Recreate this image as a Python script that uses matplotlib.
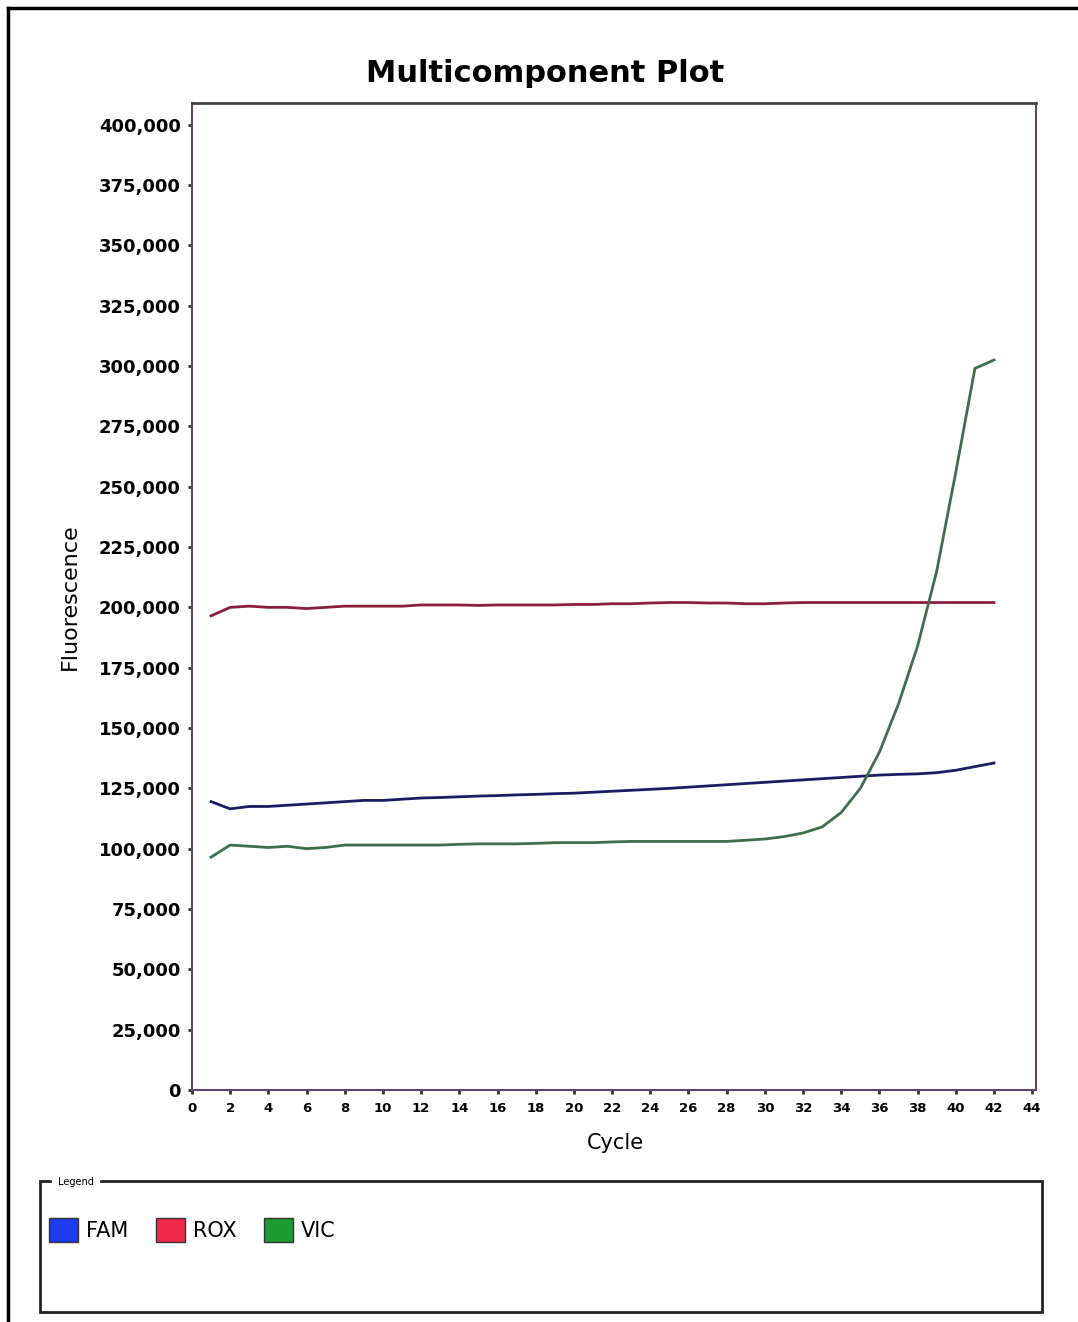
import matplotlib
matplotlib.use("Agg")
import matplotlib.pyplot as plt
from matplotlib.patches import Rectangle, Patch
from matplotlib.ticker import FuncFormatter

cycles = list(range(1, 43))
fam = [119500, 116500, 117500, 117500, 118000, 118500, 119000, 119500, 120000, 120000,
       120500, 121000, 121200, 121500, 121800, 122000, 122300, 122500, 122800, 123000,
       123400, 123800, 124200, 124600, 125000, 125500, 126000, 126500, 127000, 127500,
       128000, 128500, 129000, 129500, 130000, 130500, 130800, 131000, 131500, 132500,
       134000, 135500]
rox = [196500, 200000, 200500, 200000, 200000, 199500, 200000, 200500, 200500, 200500,
       200500, 201000, 201000, 201000, 200800, 201000, 201000, 201000, 201000, 201200,
       201200, 201500, 201500, 201800, 202000, 202000, 201800, 201800, 201500, 201500,
       201800, 202000, 202000, 202000, 202000, 202000, 202000, 202000, 202000, 202000,
       202000, 202000]
vic = [96500, 101500, 101000, 100500, 101000, 100000, 100500, 101500, 101500, 101500,
       101500, 101500, 101500, 101800, 102000, 102000, 102000, 102200, 102500, 102500,
       102500, 102800, 103000, 103000, 103000, 103000, 103000, 103000, 103500, 104000,
       105000, 106500, 109000, 115000, 125000, 140000, 160000, 184000, 215000, 256000,
       299000, 302500]
series_names = ["FAM", "ROX", "VIC"]
line_colors = ["#1c1c64", "#8a1e3c", "#3f6e4e"]
legend_colors = ["#1f3cf0", "#f0284a", "#1e9a32"]
x_ticks = list(range(0, 45, 2))
y_ticks = list(range(0, 400001, 25000))

fig = plt.figure(figsize=(10.78, 13.22), dpi=100)
fig.patch.set_facecolor("white")

# outer border of the scanned page (top and left edges)
fig.add_artist(plt.Line2D([8/1078, 8/1078], [0, 1 - 8/1322], transform=fig.transFigure,
                          color="black", linewidth=2.5))
fig.add_artist(plt.Line2D([8/1078, 1.0], [1 - 8/1322, 1 - 8/1322], transform=fig.transFigure,
                          color="black", linewidth=2.5))

ax = fig.add_axes([192/1078, 1 - 1090/1322, (1036 - 192)/1078, (1090 - 103)/1322])
for name, vals, c in zip(series_names, [fam, rox, vic], line_colors):
    ax.plot(cycles, vals, color=c, linewidth=2.0, label=name)

ax.set_xlim(0, 44.2)
ax.set_ylim(0, 409000)
ax.set_xticks(x_ticks)
ax.set_yticks(y_ticks)
ax.yaxis.set_major_formatter(FuncFormatter(lambda v, p: f"{int(v):,}"))
ax.tick_params(axis="both", direction="out", length=3, width=2, color="#333333")
ax.tick_params(axis="y", labelsize=13, pad=5)
ax.tick_params(axis="x", labelsize=9.5, pad=6)
for lab in ax.get_xticklabels() + ax.get_yticklabels():
    lab.set_fontweight("bold")
for s in ax.spines.values():
    s.set_color("#5a4670")
    s.set_linewidth(1.5)
ax.spines["top"].set_color("#444444")
ax.spines["top"].set_linewidth(2.0)

fig.text(545/1078, 1 - 73/1322, "Multicomponent Plot", ha="center", va="center",
         fontsize=22, fontweight="bold")
fig.text(70/1078, 1 - 597/1322, "Fluorescence", rotation=90, ha="center", va="center",
         fontsize=16)
fig.text(615/1078, 1 - 1143/1322, "Cycle", ha="center", va="center", fontsize=15)

# legend box
fig.add_artist(Rectangle((40/1078, 1 - 1312/1322), (1042 - 40)/1078, (1312 - 1181)/1322,
                         transform=fig.transFigure, fill=False, edgecolor="#222222",
                         linewidth=2.0))
fig.text(58/1078, 1 - 1182/1322, "Legend", fontsize=7, ha="left", va="center",
         backgroundcolor="white")
handles = [Patch(facecolor=c, edgecolor="#333333", label=n)
           for n, c in zip(series_names, legend_colors)]
fig.legend(handles=handles, loc="upper left", bbox_to_anchor=(30/1078, 1 - 1199/1322),
           ncol=3, frameon=False, fontsize=15, handlelength=1.4, handleheight=1.4,
           handletextpad=0.4, columnspacing=1.3)

fig.savefig("out.png", dpi=100, facecolor="white")
